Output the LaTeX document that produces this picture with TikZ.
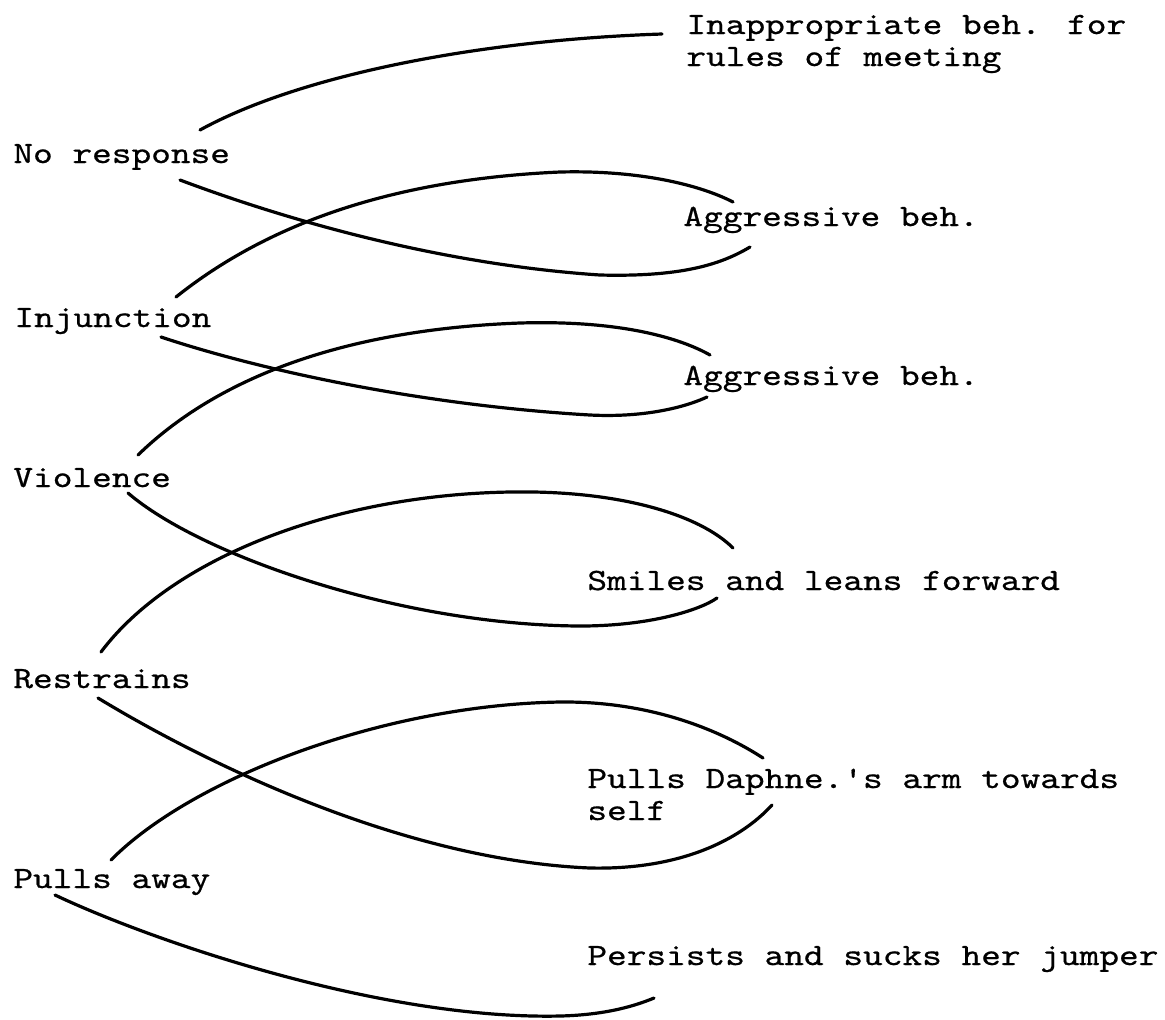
\documentclass[tikz,border=0pt]{standalone}
\usepackage{fontspec}
\newfontfamily\typefont[Extension=.otf, FakeStretch=1.21, FakeBold=0.6]{lmmono10-regular}
\usetikzlibrary{calc}

\tikzset{
  lbl/.style={anchor=base west, inner sep=0pt, align=left,
    font=\typefont\fontsize{15.5}{16}\selectfont},
  link/.style={line width=1.6pt, line cap=round}
}

\begin{document}
\begin{tikzpicture}[x=0.5pt, y=-0.5pt]
  \useasboundingbox (0,0) rectangle (1165,1019);

  % behaviours on the left
  \node[lbl] (nores) at (13,163) {No response};
  \node[lbl] (injunc) at (14,327) {Injunction};
  \node[lbl] (violence) at (13,487) {Violence};
  \node[lbl] (restrains) at (13,688) {Restrains};
  \node[lbl] (pullsaway) at (13,888) {Pulls away};

  % what follows on the right (base = last line)
  \node[lbl] (inapp) at (686,66) {Inappropriate beh. for\\rules of meeting};
  \node[lbl] (aggrA) at (683,226) {Aggressive beh.};
  \node[lbl] (aggrB) at (683,385) {Aggressive beh.};
  \node[lbl] (smiles) at (587,590) {Smiles and leans forward};
  \node[lbl] (pullsarm) at (587,820) {Pulls Daphne.'s arm towards\\self};
  \node[lbl] (persists) at (587,965) {Persists and sucks her jumper};

  % links
  \draw[link] ($(nores.base west)+(187,-33)$) .. controls (300,75) and (480,40) .. ($(inapp.base west)+(-24,-32)$);
  \draw[link] ($(nores.base west)+(167,17)$) .. controls (300,225) and (450,265) .. (600,275)
    .. controls (680,277) and (720,265) .. ($(aggrA.base west)+(67,21)$);
  \draw[link] ($(injunc.base west)+(162,-30)$) .. controls (260,230) and (380,180) .. (560,172)
    .. controls (640,170) and (700,185) .. ($(aggrA.base west)+(50,-24)$);
  \draw[link] ($(injunc.base west)+(147,10)$) .. controls (260,370) and (420,405) .. (590,415)
    .. controls (650,418) and (690,405) .. ($(aggrB.base west)+(24,12)$);
  \draw[link] ($(violence.base west)+(125,-32)$) .. controls (210,385) and (330,330) .. (520,323)
    .. controls (620,320) and (680,338) .. ($(aggrB.base west)+(27,-30)$);
  \draw[link] ($(violence.base west)+(115,6)$) .. controls (200,555) and (400,625) .. (580,626)
    .. controls (650,626) and (700,610) .. ($(smiles.base west)+(130,8)$);
  \draw[link] ($(restrains.base west)+(88,-36)$) .. controls (170,560) and (330,495) .. (510,492)
    .. controls (620,490) and (700,515) .. ($(smiles.base west)+(146,-42)$);
  \draw[link] ($(restrains.base west)+(85,10)$) .. controls (200,760) and (400,860) .. (590,868)
    .. controls (680,870) and (740,840) .. ($(pullsarm.base west)+(185,-15)$);
  \draw[link] ($(pullsaway.base west)+(98,-28)$) .. controls (190,780) and (380,705) .. (560,702)
    .. controls (650,701) and (720,730) .. ($(pullsarm.base west)+(176,-62)$);
  \draw[link] ($(pullsaway.base west)+(42,7)$) .. controls (150,940) and (380,1020) .. (560,1016)
    .. controls (600,1015) and (630,1008) .. ($(persists.base west)+(67,33)$);
\end{tikzpicture}
\end{document}
